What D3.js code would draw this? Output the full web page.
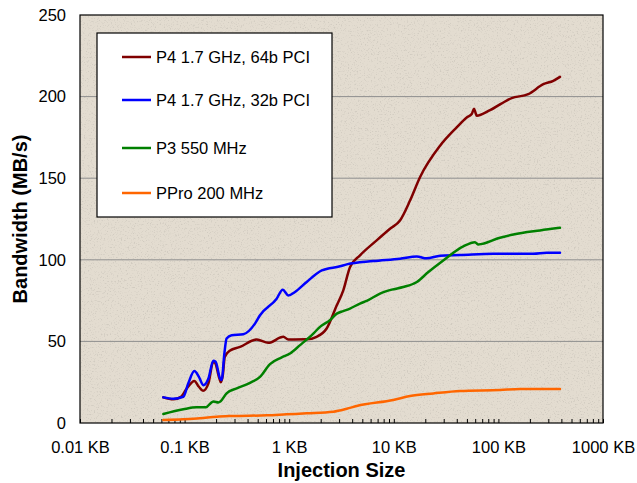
<!DOCTYPE html>
<html>
<head>
<meta charset="utf-8">
<script src="https://cdn.jsdelivr.net/npm/d3@7"></script>
<style>
  body { margin: 0; background: #fff; }
  svg { display: block; font-family: Arial, "Liberation Sans", sans-serif; }
</style>
</head>
<body>
<svg id="chart" width="637" height="483"></svg>
<script>
// injection size (KB), bandwidth (MB/s)
const p4_64 = [
  [0.0626, 15.7], [0.078, 14.5], [0.092, 16], [0.105, 21.2], [0.124, 25.7], [0.137, 22.2],
  [0.15, 19.7], [0.169, 24.3], [0.188, 37.5], [0.195, 37], [0.215, 27.3], [0.222, 24.9],
  [0.232, 29.3], [0.242, 40.5], [0.27, 44.2], [0.339, 46.6], [0.489, 51.2], [0.631, 49.1],
  [0.879, 52.8], [0.98, 51.2], [1.47, 51.3], [1.83, 52.8], [2.28, 57.9], [2.85, 72.1],
  [3.29, 81.3], [3.81, 95.5], [4.75, 102.7], [6.86, 111.9], [9.2, 119], [11.46, 124.1],
  [14.3, 136.3], [17.8, 150.6], [27.7, 169.9], [39.9, 181.1], [49.8, 187.2], [55.6, 189.3],
  [58.4, 192.5], [60.5, 190], [62.1, 188.3], [83.2, 191.7], [134, 199.1], [193, 201.5],
  [269, 207.6], [335, 209.7], [388, 212.1]
];
const p4_32 = [
  [0.0626, 15.7], [0.078, 14.9], [0.0972, 16.1], [0.1085, 24.3], [0.124, 31.8], [0.137, 28.3],
  [0.151, 23.2], [0.169, 27.3], [0.188, 38.1], [0.198, 37.5], [0.218, 27.3], [0.226, 26.3],
  [0.24, 42.6], [0.252, 51.8], [0.282, 53.8], [0.364, 54.4], [0.471, 60.9], [0.526, 66],
  [0.759, 76.2], [0.867, 81.7], [0.98, 78.2], [1.136, 80.3], [1.47, 86.4], [2.05, 93.5],
  [3.06, 96], [3.55, 97.2], [6.37, 99.2], [11.46, 100.7], [16.6, 102], [20.6, 100.9],
  [27.7, 102.5], [42.9, 102.9], [89.4, 103.7], [216, 103.7], [290, 104.3], [388, 104.3]
];
const p3_550 = [
  [0.0626, 5.5], [0.0972, 8.4], [0.13, 9.6], [0.16, 9.6], [0.18, 12.5], [0.19, 13.2],
  [0.21, 12.6], [0.22, 13.2], [0.252, 18.2], [0.315, 21.2], [0.422, 24.6], [0.526, 28.3],
  [0.655, 36.1], [0.848, 40.2], [1.018, 42.6], [1.27, 47.7], [1.7, 54.8], [1.97, 58.9],
  [2.45, 63], [2.85, 67], [3.29, 68.6], [3.81, 70.1], [4.75, 73.2], [5.51, 74.8],
  [7.38, 79.3], [9.55, 81.7], [12.3, 83.3], [16.6, 86.4], [21.4, 92.5], [29.7, 99.6],
  [46.2, 108.2], [59.7, 110.8], [64.3, 109.4], [103.5, 113.5], [139, 115.5], [250, 118],
  [388, 119.6]
];
const ppro_200 = [
  [0.0626, 1.8], [0.0972, 2.3], [0.14, 2.9], [0.203, 3.9], [0.292, 4.3], [0.61, 4.7],
  [0.94, 5.3], [1.47, 5.9], [2.64, 6.9], [3.55, 8.7], [4.42, 10.4], [9.89, 14.1],
  [14.3, 16.5], [23.9, 18.1], [42.9, 19.6], [103.5, 20.2], [161, 20.8], [388, 20.8]
];

const seriesNames = ["P4 1.7 GHz, 64b PCI", "P4 1.7 GHz, 32b PCI", "P3 550 MHz", "PPro 200 MHz"];
const seriesColors = ["#800000", "#0000ff", "#008000", "#ff6600"];
const seriesData = [p4_64, p4_32, p3_550, ppro_200];

const xDecades = [0.01, 0.1, 1, 10, 100, 1000];
const xTickLabels = ["0.01 KB", "0.1 KB", "1 KB", "10 KB", "100 KB", "1000 KB"];
const yTicks = [0, 50, 100, 150, 200, 250];

const plotLeft = 80, plotRight = 603, plotTop = 15, plotBottom = 423;

const svg = d3.select("#chart");

const x = d3.scaleLog().domain([0.01, 1000]).range([plotLeft, plotRight]);
const y = d3.scaleLinear().domain([0, 250]).range([plotBottom, plotTop]);

// stone-like plot background
const defs = svg.append("defs");
const grain = defs.append("filter").attr("id", "grain")
    .attr("x", 0).attr("y", 0).attr("width", "100%").attr("height", "100%");
grain.append("feTurbulence")
    .attr("type", "fractalNoise")
    .attr("baseFrequency", 0.7)
    .attr("numOctaves", 2)
    .attr("seed", 7);
grain.append("feColorMatrix")
    .attr("type", "matrix")
    .attr("values", "0 0 0 0 0.5  0 0 0 0 0.47  0 0 0 0 0.42  4.5 0 0 0 -2.5");
grain.append("feComposite").attr("in2", "SourceGraphic").attr("operator", "in");

svg.append("rect")
    .attr("x", plotLeft).attr("y", plotTop)
    .attr("width", plotRight - plotLeft).attr("height", plotBottom - plotTop)
    .attr("fill", "#e3dcd0");
svg.append("rect")
    .attr("x", plotLeft).attr("y", plotTop)
    .attr("width", plotRight - plotLeft).attr("height", plotBottom - plotTop)
    .attr("fill", "#000")
    .attr("filter", "url(#grain)")
    .attr("opacity", 0.45);

// gridlines
svg.append("g")
  .selectAll("line")
  .data(yTicks.filter(d => d > 0 && d < 250))
  .join("line")
    .attr("x1", plotLeft).attr("x2", plotRight)
    .attr("y1", d => y(d)).attr("y2", d => y(d))
    .attr("stroke", "#8f8f8f")
    .attr("stroke-width", 1);

// y axis labels
const yAxis = svg.append("g")
    .attr("transform", `translate(${plotLeft},0)`)
    .call(d3.axisLeft(y).tickValues(yTicks).tickSize(0).tickPadding(14));
yAxis.select(".domain").remove();
yAxis.selectAll("text").attr("font-size", 16.5).attr("fill", "#000").attr("font-family", null);

// x axis: ticks point up into the plot
const minorTicks = [];
xDecades.slice(0, -1).forEach(d => {
  for (let k = 2; k <= 9; k++) minorTicks.push(d * k);
});
const xAxis = svg.append("g")
    .attr("transform", `translate(0,${plotBottom})`)
    .call(d3.axisBottom(x)
        .tickValues(xDecades.concat(minorTicks))
        .tickSize(-4)
        .tickPadding(18)
        .tickFormat(d => {
          const i = xDecades.indexOf(d);
          return i >= 0 ? xTickLabels[i] : "";
        }));
xAxis.select(".domain").remove();
xAxis.selectAll("line").attr("stroke", "#000");
xAxis.selectAll("text").attr("font-size", 16.5).attr("fill", "#000").attr("font-family", null);

// series
const line = d3.line()
    .x(d => x(d[0]))
    .y(d => y(d[1]))
    .curve(d3.curveMonotoneX);

svg.append("g")
    .attr("fill", "none")
    .attr("stroke-width", 2.5)
    .attr("stroke-linejoin", "round")
    .attr("stroke-linecap", "round")
  .selectAll("path")
  .data(seriesData)
  .join("path")
    .attr("stroke", (d, i) => seriesColors[i])
    .attr("d", line);

// plot frame
svg.append("rect")
    .attr("x", plotLeft).attr("y", plotTop)
    .attr("width", plotRight - plotLeft).attr("height", plotBottom - plotTop)
    .attr("fill", "none")
    .attr("stroke", "#000")
    .attr("stroke-width", 1.2);

// legend
const legend = svg.append("g");
legend.append("rect")
    .attr("x", 97).attr("y", 33)
    .attr("width", 235).attr("height", 184)
    .attr("fill", "#fff")
    .attr("stroke", "#000")
    .attr("stroke-width", 1.2);
const legendRows = [57, 100, 148, 193];
const item = legend.selectAll("g.item")
  .data(seriesNames)
  .join("g")
    .attr("class", "item")
    .attr("transform", (d, i) => `translate(122,${legendRows[i]})`);
item.append("line")
    .attr("x1", 0).attr("x2", 29)
    .attr("stroke", (d, i) => seriesColors[i])
    .attr("stroke-width", 2.5);
item.append("text")
    .attr("x", 34)
    .attr("dy", "0.36em")
    .attr("font-size", 16.5)
    .text(d => d);

// axis titles
svg.append("text")
    .attr("x", (plotLeft + plotRight) / 2)
    .attr("y", 477)
    .attr("text-anchor", "middle")
    .attr("font-weight", "bold")
    .attr("font-size", 20)
    .text("Injection Size");

svg.append("text")
    .attr("transform", `translate(27,${(plotTop + plotBottom) / 2}) rotate(-90)`)
    .attr("text-anchor", "middle")
    .attr("font-weight", "bold")
    .attr("font-size", 20)
    .text("Bandwidth (MB/s)");
</script>
</body>
</html>
